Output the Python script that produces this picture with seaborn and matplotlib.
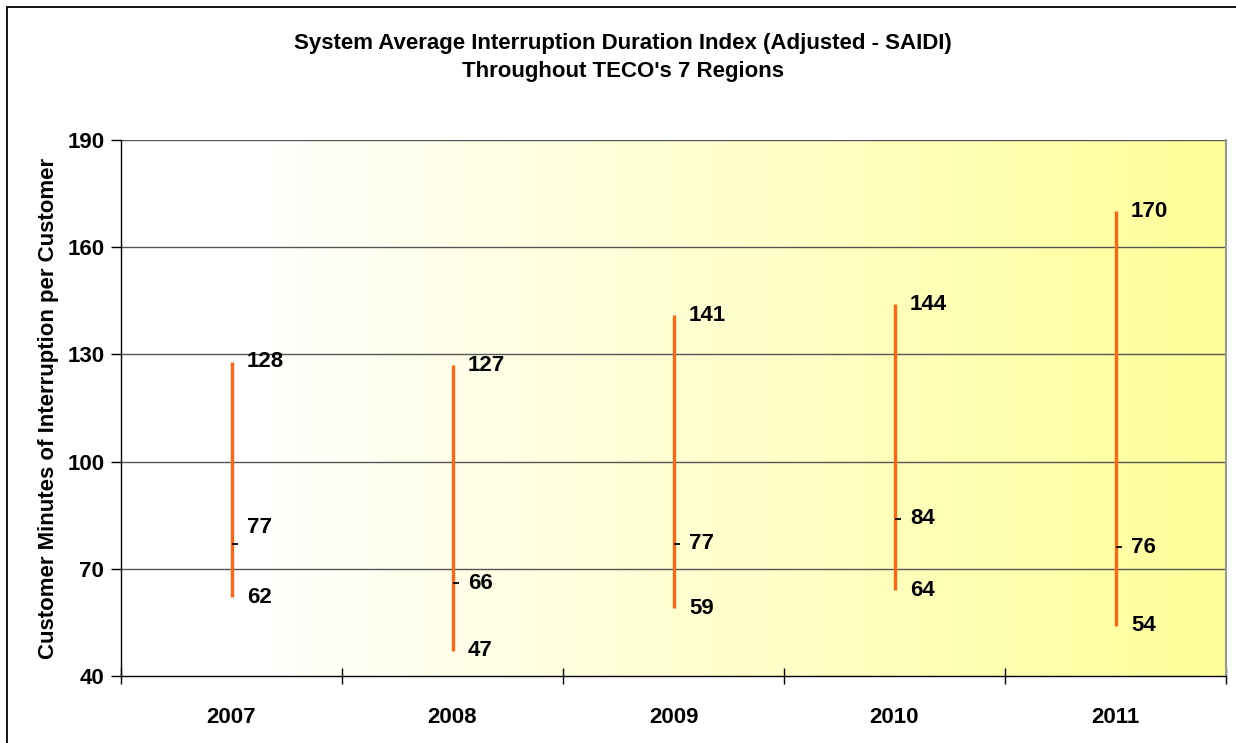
import numpy as np
import matplotlib
matplotlib.use("Agg")
import matplotlib.pyplot as plt
import matplotlib.patches as mpatches
from matplotlib.colors import LinearSegmentedColormap
import seaborn as sns
import pandas as pd

years = ["2007", "2008", "2009", "2010", "2011"]
high_vals = [128, 127, 141, 144, 170]
avg_vals = [77, 66, 77, 84, 76]
low_vals = [62, 47, 59, 64, 54]
yticks = [40, 70, 100, 130, 160, 190]

df = pd.DataFrame({"year": years, "high": high_vals, "avg": avg_vals, "low": low_vals})
df["pos"] = np.arange(len(years))

sns.set_theme(style="white")
plt.rcParams["font.family"] = ["Liberation Sans", "DejaVu Sans"]
plt.rcParams["font.weight"] = "bold"
plt.rcParams["text.color"] = "black"
plt.rcParams["axes.labelcolor"] = "black"
plt.rcParams["xtick.color"] = "black"
plt.rcParams["ytick.color"] = "black"

FS = 16

W, H = 1236, 743
fig = plt.figure(figsize=(W / 100, H / 100), dpi=100)
fig.patch.set_facecolor("white")
ax = fig.add_axes([121 / W, 1 - 676 / H, 1105 / W, 536 / H])

# gradient background
grad = np.linspace(0, 1, 512).reshape(1, -1)
cmap = LinearSegmentedColormap.from_list(
    "wy", [(0.0, "#FFFFFF"), (0.12, "#FFFFFF"), (1.0, "#FFFF99")])
ax.imshow(grad, cmap=cmap, aspect="auto", extent=[-0.5, 4.5, 40, 190], zorder=0)

# gridlines
for yv in yticks[1:]:
    ax.axhline(yv, color="#555555", lw=1.0, zorder=1)

# high-low lines
ax.vlines(df["pos"], df["low"], df["high"], color="#FF6611", lw=2.4, zorder=3)
# average tick marks (to the right of each line)
sns.lineplot(data=df, x="pos", y="avg", ax=ax, linestyle="none", marker=1,
             markersize=4, markeredgewidth=1.3, color="black",
             markeredgecolor="black", markerfacecolor="black", zorder=4)

# data labels
avg_offsets = [4.5, 0, 0, 0, 0]
for i in range(len(years)):
    x = df["pos"][i] + 0.07
    ax.text(x, high_vals[i], str(high_vals[i]), fontsize=FS,
            fontweight="bold", va="center", ha="left", zorder=5)
    ax.text(x, avg_vals[i] + avg_offsets[i], str(avg_vals[i]), fontsize=FS,
            fontweight="bold", va="center", ha="left", zorder=5)
    ax.text(x, low_vals[i], str(low_vals[i]), fontsize=FS,
            fontweight="bold", va="center", ha="left", zorder=5)

ax.set_xlim(-0.5, 4.5)
ax.set_ylim(40, 190)
ax.set_yticks(yticks)
ax.set_yticklabels([str(v) for v in yticks], fontsize=FS, fontweight="bold")
ax.set_xticks(np.arange(len(years)))
ax.set_xticklabels(years, fontsize=FS, fontweight="bold")
ax.set_xticks(np.arange(-0.5, 5, 1), minor=True)
ax.tick_params(axis="x", which="major", length=0, pad=22)
ax.tick_params(axis="x", which="minor", length=12, direction="inout", width=1, color="black", bottom=True)
ax.tick_params(axis="y", which="major", length=7, direction="out", width=1, color="black", left=True, pad=5)
ax.set_xlabel("")
ax.set_ylabel("Customer Minutes of Interruption per Customer", fontsize=FS,
              fontweight="bold", labelpad=6)

for s in ["left", "bottom"]:
    ax.spines[s].set_color("black")
    ax.spines[s].set_linewidth(1.0)
ax.spines["top"].set_visible(False)
ax.spines["right"].set_color("#999999")
ax.spines["right"].set_linewidth(1.5)

fig.text(623 / W, 1 - 44 / H, "System Average Interruption Duration Index (Adjusted - SAIDI)",
         ha="center", va="center", fontsize=FS, fontweight="bold")
fig.text(623 / W, 1 - 72 / H, "Throughout TECO's 7 Regions",
         ha="center", va="center", fontsize=FS, fontweight="bold")

border = mpatches.Rectangle((7 / W, -0.1), 1.2, 1 - 7 / H + 0.1, transform=fig.transFigure,
                            fill=False, edgecolor="black", lw=1.3)
fig.patches.append(border)

fig.savefig("out.png", dpi=100)
